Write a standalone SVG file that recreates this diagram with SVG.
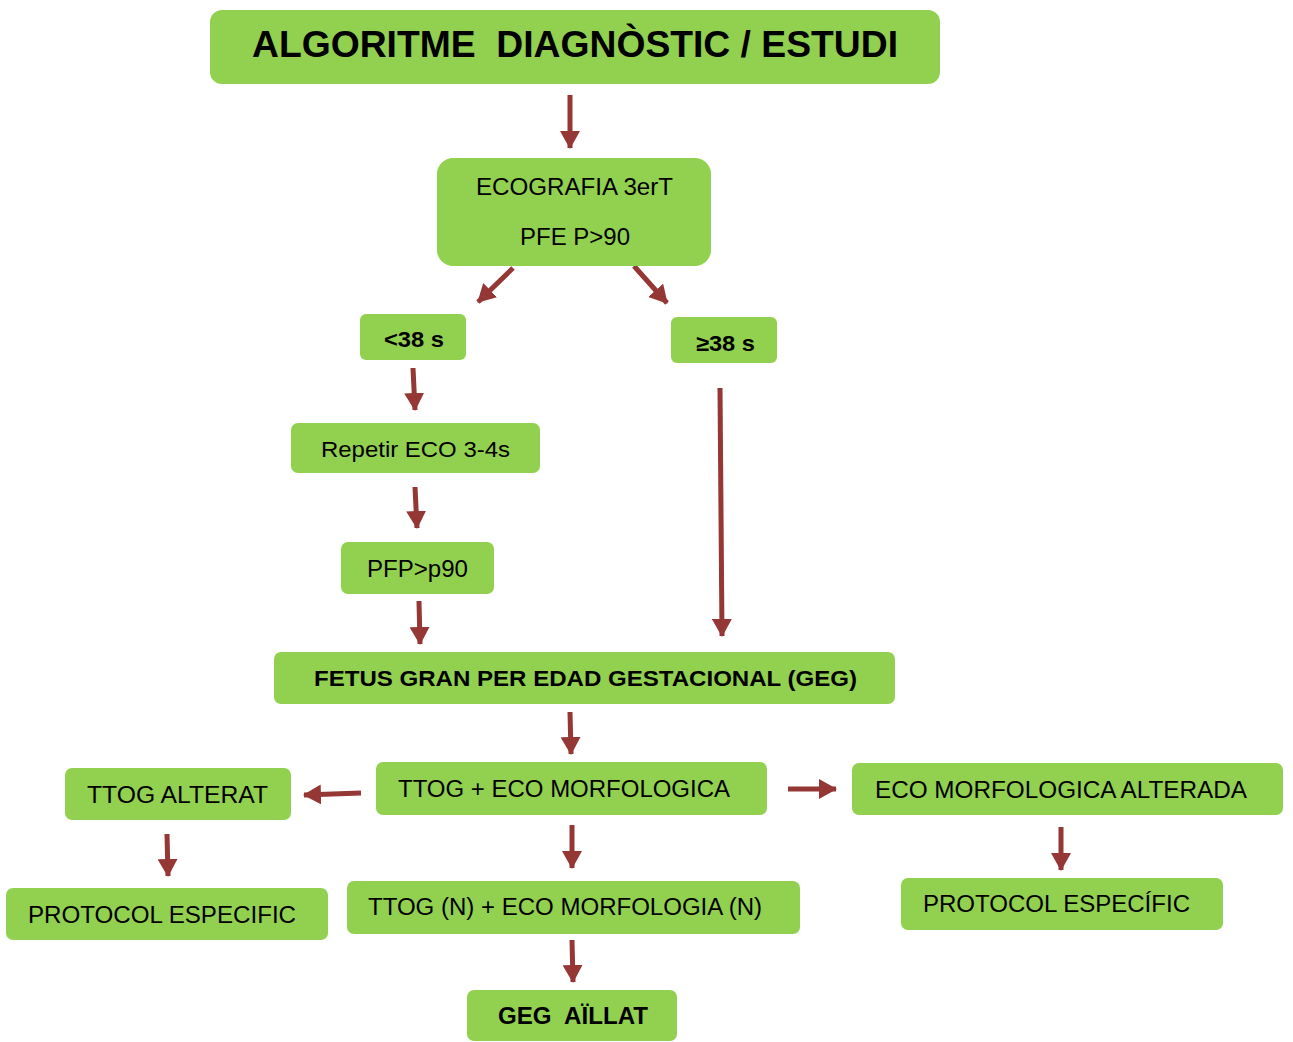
<svg xmlns="http://www.w3.org/2000/svg" width="1293" height="1042" viewBox="0 0 1293 1042">
<style>
.n{fill:#92D050;}
.t{font-family:"Liberation Sans",Arial,sans-serif;fill:#000;white-space:pre;}
.b{font-weight:bold;}
.c{stroke:#953735;stroke-width:5;fill:none;marker-end:url(#ah);}
</style>
<defs>
<marker id="ah" markerUnits="userSpaceOnUse" markerWidth="20" markerHeight="20" refX="17" refY="10" orient="auto" viewBox="0 0 20 20">
<path d="M0,0 L18,10 L0,20 Z" fill="#953735"/>
</marker>
</defs>
<rect width="1293" height="1042" fill="#fff"/>
<g id="connectors">
<line class="c" x1="570" y1="95" x2="570" y2="148"/>
<line class="c" x1="513" y1="268" x2="478" y2="302"/>
<line class="c" x1="634" y1="266" x2="667" y2="303"/>
<line class="c" x1="413" y1="368" x2="415" y2="410"/>
<line class="c" x1="415" y1="487" x2="417" y2="528"/>
<line class="c" x1="419" y1="601" x2="420" y2="644"/>
<line class="c" x1="720" y1="388" x2="722" y2="636"/>
<line class="c" x1="570" y1="712" x2="571" y2="754"/>
<line class="c" x1="361" y1="793" x2="304" y2="795"/>
<line class="c" x1="788" y1="789" x2="836" y2="789"/>
<line class="c" x1="572" y1="825" x2="572" y2="868"/>
<line class="c" x1="167" y1="834" x2="168" y2="876"/>
<line class="c" x1="1061" y1="827" x2="1061" y2="870"/>
<line class="c" x1="572" y1="940" x2="573" y2="982"/>
</g>
<g id="title">
<rect class="n" x="210" y="10" width="730" height="74" rx="12"/>
<text class="t b" x="252" y="57" xml:space="preserve" style="font-size:37px" textLength="646" lengthAdjust="spacingAndGlyphs">ALGORITME  DIAGNÒSTIC / ESTUDI</text>
</g>
<g id="ecografia">
<rect class="n" x="437" y="158" width="274" height="108" rx="16"/>
<text class="t" x="476" y="195" style="font-size:23px" textLength="197" lengthAdjust="spacingAndGlyphs">ECOGRAFIA 3erT</text>
<text class="t" x="520" y="245" style="font-size:23px" textLength="110" lengthAdjust="spacingAndGlyphs">PFE P&gt;90</text>
</g>
<g id="lt38">
<rect class="n" x="360" y="314" width="106" height="46" rx="6"/>
<text class="t b" x="384" y="347" style="font-size:22px" textLength="60" lengthAdjust="spacingAndGlyphs">&lt;38 s</text>
</g>
<g id="ge38">
<rect class="n" x="671" y="317" width="106" height="46" rx="6"/>
<text class="t b" x="696" y="351" style="font-size:22px" textLength="59" lengthAdjust="spacingAndGlyphs">≥38 s</text>
</g>
<g id="repetir">
<rect class="n" x="291" y="423" width="249" height="50" rx="7"/>
<text class="t" x="321" y="457" style="font-size:22px" textLength="189" lengthAdjust="spacingAndGlyphs">Repetir ECO 3-4s</text>
</g>
<g id="pfp">
<rect class="n" x="341" y="542" width="153" height="52" rx="7"/>
<text class="t" x="367" y="577" style="font-size:23px" textLength="101" lengthAdjust="spacingAndGlyphs">PFP&gt;p90</text>
</g>
<g id="fetus">
<rect class="n" x="274" y="652" width="621" height="52" rx="7"/>
<text class="t b" x="314" y="686" style="font-size:22px" textLength="543" lengthAdjust="spacingAndGlyphs">FETUS GRAN PER EDAD GESTACIONAL (GEG)</text>
</g>
<g id="ttog-alterat">
<rect class="n" x="65" y="768" width="226" height="52" rx="7"/>
<text class="t" x="87" y="803" style="font-size:23px" textLength="181" lengthAdjust="spacingAndGlyphs">TTOG ALTERAT</text>
</g>
<g id="ttog-eco">
<rect class="n" x="376" y="762" width="391" height="53" rx="7"/>
<text class="t" x="398" y="797" style="font-size:23px" textLength="332" lengthAdjust="spacingAndGlyphs">TTOG + ECO MORFOLOGICA</text>
</g>
<g id="eco-alterada">
<rect class="n" x="852" y="763" width="431" height="52" rx="7"/>
<text class="t" x="875" y="798" style="font-size:23px" textLength="372" lengthAdjust="spacingAndGlyphs">ECO MORFOLOGICA ALTERADA</text>
</g>
<g id="protocol-1">
<rect class="n" x="6" y="888" width="322" height="52" rx="7"/>
<text class="t" x="28" y="923" style="font-size:23px" textLength="268" lengthAdjust="spacingAndGlyphs">PROTOCOL ESPECIFIC</text>
</g>
<g id="ttog-n">
<rect class="n" x="347" y="881" width="453" height="53" rx="7"/>
<text class="t" x="368" y="915" style="font-size:23px" textLength="394" lengthAdjust="spacingAndGlyphs">TTOG (N) + ECO MORFOLOGIA (N)</text>
</g>
<g id="protocol-2">
<rect class="n" x="901" y="878" width="322" height="52" rx="7"/>
<text class="t" x="923" y="912" style="font-size:23px" textLength="267" lengthAdjust="spacingAndGlyphs">PROTOCOL ESPECÍFIC</text>
</g>
<g id="geg">
<rect class="n" x="467" y="990" width="210" height="51" rx="7"/>
<text class="t b" x="498" y="1024" xml:space="preserve" style="font-size:23px" textLength="150" lengthAdjust="spacingAndGlyphs">GEG  AÏLLAT</text>
</g>
</svg>
